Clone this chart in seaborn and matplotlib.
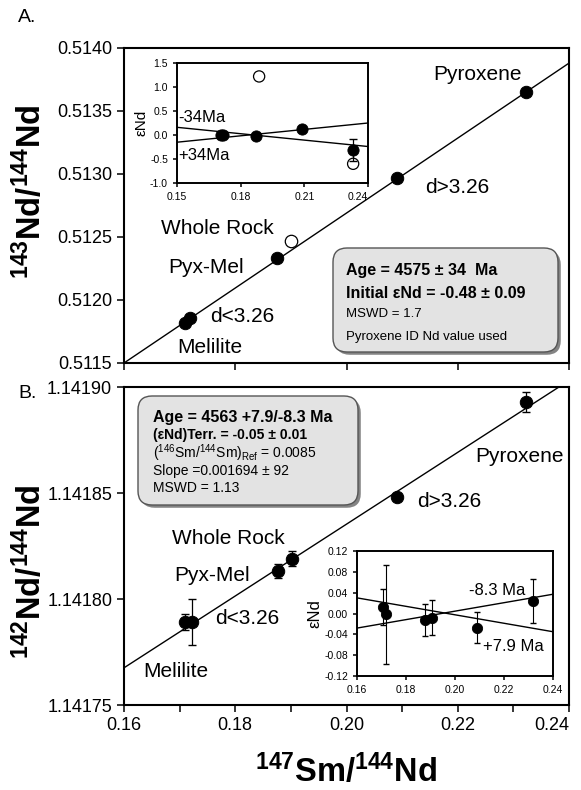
import numpy as np
import pandas as pd
import matplotlib
matplotlib.use("Agg")
import matplotlib.pyplot as plt
import matplotlib.patheffects as pe
from matplotlib.patches import FancyBboxPatch
from matplotlib.transforms import IdentityTransform
from matplotlib.ticker import MultipleLocator, FormatStrFormatter, FuncFormatter
import seaborn as sns

# ---- panel A : 147Sm/144Nd vs 143Nd/144Nd ----
a_names = ["Melilite", "d<3.26", "Pyx-Mel", "d>3.26", "Pyroxene"]
a_sm = [0.1710, 0.1719, 0.1875, 0.2091, 0.2323]
a_nd = [0.51182, 0.51186, 0.51233, 0.51297, 0.51365]
a_wr_sm = [0.1900]          # whole rock (open symbol)
a_wr_nd = [0.51247]
a_slope, a_icpt = 0.02975, 0.50674

# inset A : epsilon Nd residuals
ia_sm = [0.1705, 0.1715, 0.1870, 0.2090, 0.2330]
ia_eps = [0.00, 0.00, -0.02, 0.13, -0.31]
ia_err = [0.0, 0.0, 0.0, 0.0, 0.23]
ia_open_sm = [0.1887, 0.2330]
ia_open_eps = [1.22, -0.60]
ia_lines = {"-34Ma": (-4.444, 0.8267), "+34Ma": (4.444, -0.8167)}

# ---- panel B : 147Sm/144Nd vs 142Nd/144Nd ----
b_sm = [0.1710, 0.1722, 0.1877, 0.1902, 0.2091, 0.2323]
b_nd = [1.141789, 1.141789, 1.141813, 1.141819, 1.141848, 1.141893]
b_err = [0.0000038, 0.0000109, 0.0000033, 0.0000035, 0.0000015, 0.0000047]
b_slope, b_icpt = 0.001694, 1.1414965

# inset B
ib_sm = [0.1706, 0.1720, 0.1878, 0.1906, 0.2090, 0.2318]
ib_eps = [0.012, -0.001, -0.012, -0.008, -0.027, 0.024]
ib_err = [0.035, 0.095, 0.031, 0.033, 0.029, 0.043]
ib_lines = {"-8.3 Ma": (0.8125, -0.158), "+7.9 Ma": (-0.8125, 0.160)}

# label positions (data coords)
a_text = {"Pyroxene": (0.2236, 0.513786), "d>3.26": (0.2200, 0.51289),
          "Whole Rock": (0.1767, 0.51257), "Pyx-Mel": (0.1747, 0.51226),
          "d<3.26": (0.1812, 0.51187), "Melilite": (0.1755, 0.51162)}
b_text = {"Pyroxene": (0.2311, 1.141867), "d>3.26": (0.2184, 1.141846),
          "Whole Rock": (0.1787, 1.1418285), "Pyx-Mel": (0.1758, 1.141811),
          "d<3.26": (0.1821, 1.1417907), "Melilite": (0.1694, 1.1417656)}

sns.set_style("ticks")
plt.rcParams["font.family"] = ["Liberation Sans", "DejaVu Sans"]
plt.rcParams["mathtext.fontset"] = "custom"
plt.rcParams["mathtext.rm"] = "Liberation Sans"
plt.rcParams["mathtext.bf"] = "Liberation Sans:bold"
plt.rcParams["mathtext.it"] = "Liberation Sans:italic"
for key in ["text.color", "axes.labelcolor", "xtick.color", "ytick.color", "axes.edgecolor"]:
    plt.rcParams[key] = "black"

W, H = 581, 790
fig = plt.figure(figsize=(W / 100, H / 100), dpi=100)


def px_axes(x0, y0, x1, y1):
    # pixel box (top-left origin) -> axes
    return fig.add_axes([x0 / W, 1 - y1 / H, (x1 - x0) / W, (y1 - y0) / H])


def style_axes(ax, lw=1.5, size=13, length=5):
    for s in ax.spines.values():
        s.set_visible(True)
        s.set_linewidth(lw)
        s.set_color("black")
    ax.tick_params(direction="out", labelsize=size, length=length, width=1.1, colors="black")
    ax.tick_params(which="minor", direction="out", length=length, width=1.1)
    ax.set_xlabel("")
    ax.set_ylabel("")


def shift_last_xlabel(ax, last, size, length):
    # the original nudges the right-most x label inside the frame
    ax.xaxis.set_major_formatter(FuncFormatter(lambda v, p: "" if abs(v - last) < 1e-9 else f"{v:.2f}"))
    ax.annotate(f"{last:.2f}", xy=(last, 0), xycoords=("data", "axes fraction"),
                xytext=(0, -(length + 3.5)), textcoords="offset points",
                ha="right", va="top", fontsize=size, annotation_clip=False)


def fit_line(ax, slope, icpt, lw=1.0):
    x0, x1 = ax.get_xlim()
    xs = np.array([x0, x1])
    sns.lineplot(x=xs, y=icpt + slope * xs, ax=ax, color="black", lw=lw, zorder=2)


def info_box(x0, y0, x1, y1):
    box = FancyBboxPatch((x0, H - y1), x1 - x0, y1 - y0,
                         boxstyle="round,pad=0,rounding_size=14",
                         transform=IdentityTransform(), facecolor="#e3e3e3",
                         edgecolor="#555555", lw=1.0, zorder=5)
    box.set_path_effects([pe.SimplePatchShadow(offset=(2, -2), shadow_rgbFace="#666666", alpha=0.8),
                          pe.Normal()])
    fig.patches.append(box)


def ftext(x, y, s, **kw):
    fig.text(x / W, 1 - y / H, s, va="center", zorder=6, **kw)


# ================= panel A =================
axA = px_axes(124, 48, 569, 363)
axA.set_xlim(0.16, 0.24)
axA.set_ylim(0.5115, 0.5140)
fit_line(axA, a_slope, a_icpt)
dfa = pd.DataFrame({"sm": a_sm, "nd": a_nd})
sns.scatterplot(data=dfa, x="sm", y="nd", ax=axA, color="black", s=80, edgecolor="black", zorder=3)
sns.scatterplot(x=a_wr_sm, y=a_wr_nd, ax=axA, color="white", s=80, edgecolor="black", linewidth=0.9, zorder=3)
style_axes(axA)
axA.xaxis.set_major_locator(MultipleLocator(0.02))
axA.yaxis.set_major_locator(MultipleLocator(0.0005))
axA.yaxis.set_major_formatter(FormatStrFormatter("%.4f"))
axA.tick_params(axis="x", labelbottom=False)
for k, (x, y) in a_text.items():
    axA.text(x, y, k, fontsize=15, ha="center", va="center")

# inset A
iA = px_axes(177, 63, 368, 183)
iA.set_xlim(0.15, 0.24)
iA.set_ylim(-1.0, 1.5)
for k, (m, c) in ia_lines.items():
    fit_line(iA, m, c, lw=1.0)
iA.errorbar(ia_sm, ia_eps, yerr=ia_err, fmt="none", ecolor="black", elinewidth=0.9, capsize=3, zorder=3)
sns.scatterplot(x=ia_sm, y=ia_eps, ax=iA, color="black", s=65, edgecolor="black", zorder=4)
sns.scatterplot(x=ia_open_sm, y=ia_open_eps, ax=iA, color="none", s=65, edgecolor="black", linewidth=0.9, zorder=4)
style_axes(iA, lw=1.4, size=7.5, length=3)
iA.xaxis.set_major_locator(MultipleLocator(0.03))
iA.yaxis.set_major_locator(MultipleLocator(0.5))
iA.yaxis.set_major_formatter(FormatStrFormatter("%.1f"))
shift_last_xlabel(iA, 0.24, 7.5, 3)
iA.set_ylabel("εNd", fontsize=11, labelpad=1)
iA.text(0.1505, 0.36, "-34Ma", fontsize=12, ha="left", va="center")
iA.text(0.1505, -0.42, "+34Ma", fontsize=12, ha="left", va="center")

# info box A
info_box(333, 248, 558, 352)
ftext(346, 271, "Age = 4575 ± 34  Ma", fontsize=11.5, fontweight="bold")
ftext(346, 293, "Initial εNd = -0.48 ± 0.09", fontsize=11.5, fontweight="bold")
ftext(346, 314, "MSWD = 1.7", fontsize=9.5)
ftext(346, 337, "Pyroxene ID Nd value used", fontsize=9.5)

# ================= panel B =================
axB = px_axes(124, 387, 569, 705)
axB.set_xlim(0.16, 0.24)
axB.set_ylim(1.14175, 1.14190)
fit_line(axB, b_slope, b_icpt)
axB.errorbar(b_sm, b_nd, yerr=b_err, fmt="none", ecolor="black", elinewidth=0.9, capsize=3, zorder=3)
dfb = pd.DataFrame({"sm": b_sm, "nd": b_nd})
sns.scatterplot(data=dfb, x="sm", y="nd", ax=axB, color="black", s=80, edgecolor="black", zorder=4)
style_axes(axB)
axB.xaxis.set_major_locator(MultipleLocator(0.02))
axB.xaxis.set_minor_locator(MultipleLocator(0.01))
axB.yaxis.set_major_locator(MultipleLocator(0.00005))
axB.yaxis.set_major_formatter(FormatStrFormatter("%.5f"))
shift_last_xlabel(axB, 0.24, 13, 5)
for k, (x, y) in b_text.items():
    axB.text(x, y, k, fontsize=15, ha="center", va="center")

# inset B
iB = px_axes(357, 551, 553, 676)
iB.set_xlim(0.16, 0.24)
iB.set_ylim(-0.12, 0.12)
for k, (m, c) in ib_lines.items():
    fit_line(iB, m, c, lw=1.0)
iB.errorbar(ib_sm, ib_eps, yerr=ib_err, fmt="none", ecolor="black", elinewidth=0.8, capsize=2.5, zorder=3)
sns.scatterplot(x=ib_sm, y=ib_eps, ax=iB, color="black", s=55, edgecolor="black", zorder=4)
style_axes(iB, lw=1.4, size=7.5, length=3)
iB.xaxis.set_major_locator(MultipleLocator(0.02))
iB.yaxis.set_major_locator(MultipleLocator(0.04))
iB.xaxis.set_major_formatter(FormatStrFormatter("%.2f"))
iB.yaxis.set_major_formatter(FormatStrFormatter("%.2f"))
iB.set_ylabel("εNd", fontsize=12, labelpad=1)
iB.text(0.2286, 0.045, "-8.3 Ma", fontsize=12, ha="right", va="center")
iB.text(0.2363, -0.064, "+7.9 Ma", fontsize=12, ha="right", va="center")

# info box B
info_box(138, 396, 358, 505)
ftext(153, 417, "Age = 4563 +7.9/-8.3 Ma", fontsize=11.5, fontweight="bold")
ftext(153, 435, "(εNd)Terr. = -0.05 ± 0.01", fontsize=10, fontweight="bold")
ftext(153, 453, r"($^{146}$Sm/$^{144}$Sm)$_{\mathrm{Ref}}$ = 0.0085", fontsize=10)
ftext(153, 471, "Slope =0.001694 ± 92", fontsize=10)
ftext(153, 488, "MSWD = 1.13", fontsize=10)

# panel letters and axis titles
ftext(18, 18, "A.", fontsize=14)
ftext(18, 393, "B.", fontsize=14)
fig.text(30 / W, 1 - 192 / H, r"$^{\mathbf{143}}$Nd/$^{\mathbf{144}}$Nd", rotation=90,
         fontsize=23.5, fontweight="bold", ha="center", va="center")
fig.text(30 / W, 1 - 572 / H, r"$^{\mathbf{142}}$Nd/$^{\mathbf{144}}$Nd", rotation=90,
         fontsize=23.5, fontweight="bold", ha="center", va="center")
fig.text(346 / W, 1 - 771 / H, r"$^{\mathbf{147}}$Sm/$^{\mathbf{144}}$Nd",
         fontsize=23.5, fontweight="bold", ha="center", va="center")

fig.savefig("out.png", dpi=100)
